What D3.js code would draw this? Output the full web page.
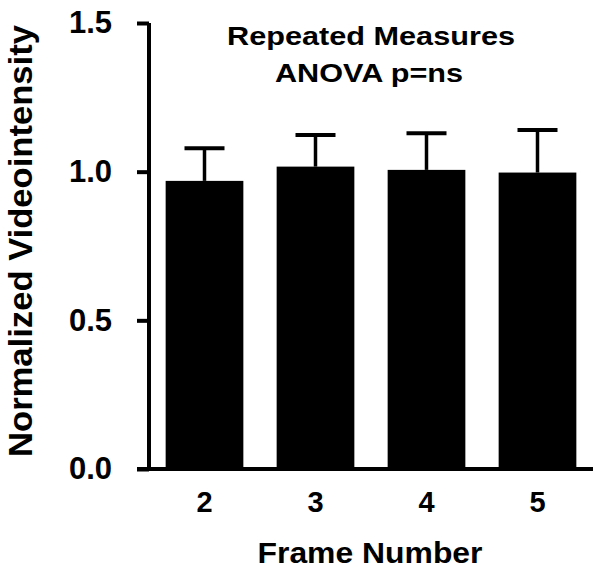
<!DOCTYPE html>
<html>
<head>
<meta charset="utf-8">
<script src="https://cdnjs.cloudflare.com/ajax/libs/d3/7.8.5/d3.min.js"></script>
<style>
  body { margin: 0; background: #fff; }
  text { font-family: "Liberation Sans", Arial, sans-serif; font-weight: bold; fill: #000; }
</style>
</head>
<body>
<script>
const frames = ["2", "3", "4", "5"];
const means = [0.969, 1.017, 1.006, 0.997];
const errs = [0.110, 0.106, 0.123, 0.143];
const yTicks = [0, 0.5, 1.0, 1.5];

const svg = d3.select("body").append("svg")
    .attr("width", 600)
    .attr("height", 573);

const x = d3.scaleBand()
    .domain(frames)
    .range([149, 593])
    .paddingInner(0.3)
    .paddingOuter(0.15);

const y = d3.scaleLinear()
    .domain([0, 1.5])
    .range([469, 23]);

// bars
svg.selectAll("rect.bar")
    .data(frames)
    .enter().append("rect")
    .attr("class", "bar")
    .attr("x", d => x(d))
    .attr("width", x.bandwidth())
    .attr("y", (d, i) => y(means[i]))
    .attr("height", (d, i) => y(0) - y(means[i]))
    .attr("fill", "#000");

// error bars (upper only)
const eb = svg.selectAll("g.err")
    .data(frames)
    .enter().append("g")
    .attr("class", "err");
eb.append("line")
    .attr("x1", d => x(d) + x.bandwidth() / 2)
    .attr("x2", d => x(d) + x.bandwidth() / 2)
    .attr("y1", (d, i) => y(means[i]))
    .attr("y2", (d, i) => y(means[i] + errs[i]))
    .attr("stroke", "#000")
    .attr("stroke-width", 3.5);
eb.append("line")
    .attr("x1", d => x(d) + x.bandwidth() / 2 - 20)
    .attr("x2", d => x(d) + x.bandwidth() / 2 + 20)
    .attr("y1", (d, i) => y(means[i] + errs[i]))
    .attr("y2", (d, i) => y(means[i] + errs[i]))
    .attr("stroke", "#000")
    .attr("stroke-width", 4);

// y axis
const yAxis = svg.append("g")
    .attr("transform", "translate(149,0)")
    .call(d3.axisLeft(y).tickValues(yTicks).tickFormat(d3.format(".1f")).tickSize(12).tickPadding(25));
yAxis.select(".domain").attr("d", "M0," + y(1.5) + "V" + (y(0) + 2)).attr("stroke-width", 4);
yAxis.selectAll(".tick line").attr("stroke-width", 4);
yAxis.selectAll(".tick text").attr("font-size", 31).attr("font-weight", "bold").attr("font-family", "Liberation Sans, Arial, sans-serif");

// x axis
const xAxis = svg.append("g")
    .attr("transform", "translate(0,469)")
    .call(d3.axisBottom(x).tickSize(0).tickPadding(22));
xAxis.select(".domain").attr("d", "M137,0H593").attr("stroke-width", 4);
xAxis.selectAll(".tick text").attr("font-size", 29).attr("font-weight", "bold").attr("font-family", "Liberation Sans, Arial, sans-serif");

// axis titles
svg.append("text")
    .attr("x", 370)
    .attr("y", 563)
    .attr("text-anchor", "middle")
    .attr("font-size", 30)
    .attr("textLength", 225)
    .attr("lengthAdjust", "spacingAndGlyphs")
    .text("Frame Number");

svg.append("text")
    .attr("transform", "translate(32,241) rotate(-90)")
    .attr("text-anchor", "middle")
    .attr("font-size", 33)
    .attr("textLength", 432)
    .attr("lengthAdjust", "spacingAndGlyphs")
    .text("Normalized Videointensity");

// annotation
svg.append("text")
    .attr("x", 371)
    .attr("y", 45)
    .attr("text-anchor", "middle")
    .attr("font-size", 26)
    .attr("textLength", 288)
    .attr("lengthAdjust", "spacingAndGlyphs")
    .text("Repeated Measures");
svg.append("text")
    .attr("x", 369)
    .attr("y", 82)
    .attr("text-anchor", "middle")
    .attr("font-size", 26)
    .attr("textLength", 188)
    .attr("lengthAdjust", "spacingAndGlyphs")
    .text("ANOVA p=ns");
</script>
</body>
</html>
